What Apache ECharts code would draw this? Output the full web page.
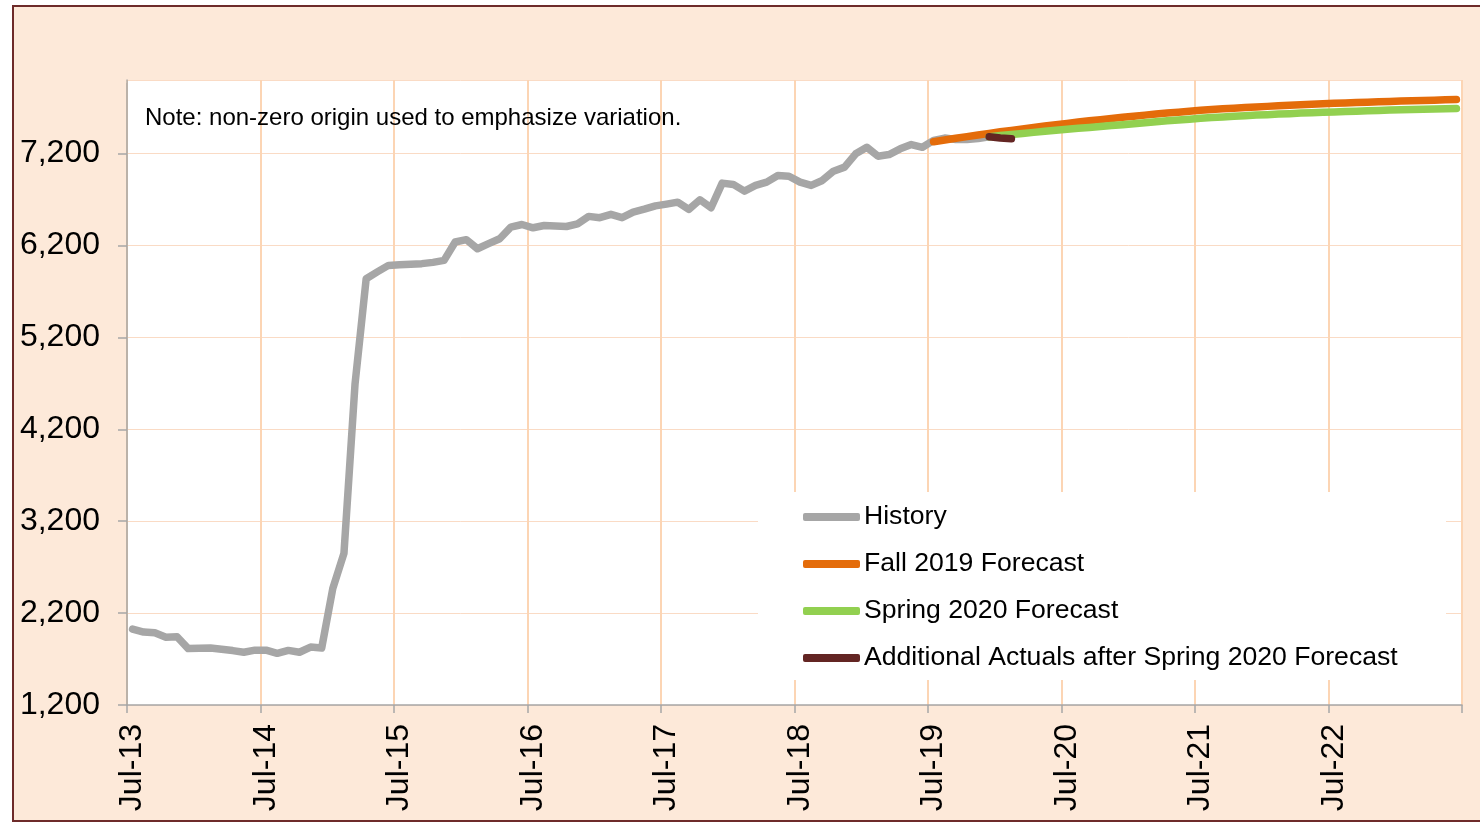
<!DOCTYPE html>
<html>
<head>
<meta charset="utf-8">
<script src="https://cdn.jsdelivr.net/npm/echarts@6/dist/echarts.min.js"></script>
<style>
  html, body { margin: 0; padding: 0; background: #ffffff; width: 1480px; height: 822px; overflow: hidden; }
  #frame { position: absolute; left: 12px; top: 5px; width: 1500px; height: 813px; border: 2px solid #6E2B2A; background: #FDE9D9; }
  #chart { position: absolute; left: 0; top: 0; width: 1480px; height: 822px; }
</style>
</head>
<body>
<div id="frame"></div>
<div id="chart"></div>
<script>
// ---- Data ----
const monthNames = ['Jan','Feb','Mar','Apr','May','Jun','Jul','Aug','Sep','Oct','Nov','Dec'];
const categories = [];
for (let i = 0; i < 120; i++) {
  const m = (6 + i) % 12;
  const y = 2013 + Math.floor((6 + i) / 12);
  categories.push(monthNames[m] + '-' + String(y).slice(2));
}

const historyStart = 'Jul-13';
const historyValues = [
  2026,1993,1986,1938,1943,1814,1817,1820,1807,1792,
  1774,1797,1797,1762,1794,1774,1830,1820,2469,2849,
  4697,5838,5912,5983,5990,5996,6002,6016,6037,6237,
  6263,6164,6219,6273,6399,6428,6392,6417,6412,6406,
  6435,6516,6502,6538,6502,6563,6595,6630,6650,6671,
  6592,6697,6610,6878,6864,6791,6853,6889,6961,6953,
  6889,6853,6907,7008,7052,7197,7268,7171,7189,7251,
  7298,7268,7343,7368,7353,7353,7363,7383
];

const fall2019Start = 'Jul-19';
const fall2019Values = [
  7328,7347,7366,7384,7402,7419,7436,7452,7468,7484,
  7499,7514,7528,7542,7556,7569,7582,7594,7606,7618,
  7629,7640,7650,7660,7670,7678,7686,7693,7700,7707,
  7713,7719,7725,7731,7736,7741,7746,7751,7755,7759,
  7763,7767,7771,7775,7778,7781,7784,7787
];

const spring2020Start = 'Dec-19';
const spring2020Values = [
  7383,7396,7407,7418,7430,7442,7453,7463,7474,7483,
  7493,7504,7514,7525,7536,7546,7556,7565,7574,7583,
  7591,7598,7605,7611,7618,7623,7629,7634,7640,7644,
  7649,7653,7658,7661,7666,7669,7673,7676,7680,7682,
  7685,7687,7690
];

const actualsStart = 'Dec-19';
const actualsValues = [7383, 7368, 7360];

const yTicks = { min: 1200, max: 8000, interval: 1000 };
const noteText = 'Note: non-zero origin used to emphasize variation.';
const seriesNames = ['History', 'Fall 2019 Forecast', 'Spring 2020 Forecast', 'Additional Actuals after Spring 2020 Forecast'];
const seriesColors = ['#A6A6A6', '#E46C0A', '#92D050', '#632523'];

// ---- Build ----
function placed(startLabel, values) {
  const arr = new Array(categories.length).fill(null);
  const s = categories.indexOf(startLabel);
  values.forEach((v, i) => { if (s + i < arr.length) arr[s + i] = v; });
  return arr;
}

const FONT = "'Liberation Sans', Arial, sans-serif";
const chart = echarts.init(document.getElementById('chart'), null, { renderer: 'canvas' });

const seriesData = [
  placed(historyStart, historyValues),
  placed(fall2019Start, fall2019Values),
  placed(spring2020Start, spring2020Values),
  placed(actualsStart, actualsValues)
];

const option = {
  backgroundColor: 'transparent',
  animation: false,
  textStyle: { fontFamily: FONT },
  grid: {
    left: 127, top: 80, width: 1335, height: 625,
    show: true, backgroundColor: '#ffffff', borderWidth: 0, containLabel: false
  },
  xAxis: {
    type: 'category',
    data: categories,
    boundaryGap: true,
    axisLine: { show: true, lineStyle: { color: '#A6A6A6', width: 1.5 } },
    axisTick: { show: true, interval: 11, length: 8, lineStyle: { color: '#A6A6A6', width: 1.5 } },
    axisLabel: {
      show: true, interval: 11, rotate: 90, margin: 19,
      fontSize: 32, color: '#000000', fontFamily: FONT
    },
    splitLine: { show: true, interval: 11, lineStyle: { color: '#FCD5B4', width: 2 } }
  },
  yAxis: {
    type: 'value',
    min: yTicks.min, max: yTicks.max, interval: yTicks.interval,
    axisLine: { show: true, lineStyle: { color: '#A6A6A6', width: 1.5 } },
    axisTick: { show: true, length: 9, lineStyle: { color: '#A6A6A6', width: 1.5 } },
    axisLabel: {
      show: true, showMaxLabel: false, margin: 27, fontSize: 32, color: '#000000', fontFamily: FONT,
      formatter: v => v.toLocaleString('en-US')
    },
    splitLine: { show: true, lineStyle: { color: '#FADBC5', width: 1 } }
  },
  legend: {
    show: true,
    orient: 'vertical',
    left: 803, top: 502,
    padding: 0,
    itemWidth: 57, itemHeight: 8, itemGap: 17,
    icon: 'roundRect',
    textStyle: { fontSize: 26.6, color: '#000000', fontFamily: FONT, lineHeight: 30, padding: [0, 0, 0, -1] },
    data: seriesNames,
    z: 10
  },
  graphic: [
    {
      type: 'rect', z: 5, silent: true,
      shape: { x: 758, y: 492, width: 688, height: 188 },
      style: { fill: '#ffffff' }
    },
    {
      type: 'rect', z: 100, silent: true,
      shape: { x: 114, y: 77, width: 12.2, height: 6 },
      style: { fill: '#FDE9D9' }
    },
    {
      type: 'text', z: 5, silent: true, left: 145, top: 106,
      style: { text: noteText, font: "24px 'Liberation Sans', Arial, sans-serif", fill: '#000000' }
    }
  ],
  series: seriesNames.map((name, i) => ({
    name: name,
    type: 'line',
    data: seriesData[i],
    showSymbol: false,
    symbol: 'none',
    connectNulls: false,
    color: seriesColors[i],
    lineStyle: { color: seriesColors[i], width: 7.5, cap: 'round', join: 'round' },
    z: 2 + i
  }))
};

chart.setOption(option);
</script>
</body>
</html>
